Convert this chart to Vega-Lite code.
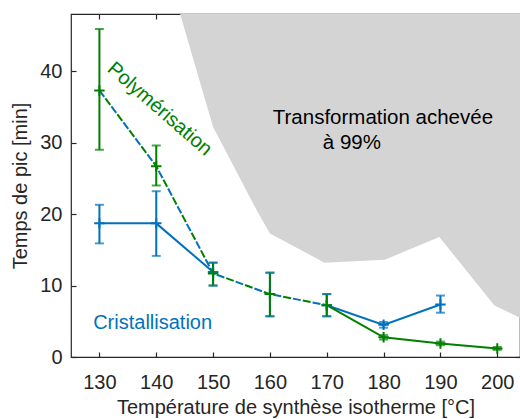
{
  "$schema": "https://vega.github.io/schema/vega-lite/v6.json",
  "width": 449,
  "height": 343,
  "autosize": "none",
  "padding": {"left": 71, "top": 14, "right": 0, "bottom": 62},
  "background": "white",
  "config": {
    "font": "Liberation Sans",
    "view": {"stroke": "#262626", "strokeWidth": 1.2},
    "axis": {
      "domain": false,
      "grid": false,
      "ticks": true,
      "tickColor": "#262626",
      "tickWidth": 1.2,
      "tickSize": -5,
      "labelColor": "#262626",
      "titleColor": "#262626",
      "labelFontSize": 20,
      "titleFontSize": 20,
      "titleFontWeight": "normal",
      "labelFont": "Liberation Sans",
      "titleFont": "Liberation Sans"
    }
  },
  "datasets": {
    "region": [
      {"temp": 144.2, "time": 48},
      {"temp": 150.0, "time": 32.2},
      {"temp": 157.7, "time": 20.5},
      {"temp": 160.0, "time": 17.3},
      {"temp": 169.6, "time": 13.2},
      {"temp": 180.2, "time": 13.6},
      {"temp": 189.8, "time": 16.8},
      {"temp": 199.5, "time": 7.2},
      {"temp": 204.0, "time": 5.5}
    ],
    "lines": [
      {"grp": "gd", "temp": 130, "time": 37.3},
      {"grp": "gd", "temp": 140, "time": 26.7},
      {"grp": "gd", "temp": 150, "time": 11.7},
      {"grp": "gd", "temp": 160, "time": 8.8},
      {"grp": "gd", "temp": 170, "time": 7.25},
      {"grp": "bs1", "temp": 130, "time": 18.7},
      {"grp": "bs1", "temp": 140, "time": 18.7},
      {"grp": "bs1", "temp": 150, "time": 11.9},
      {"grp": "bs2", "temp": 170, "time": 7.25},
      {"grp": "bs2", "temp": 180, "time": 4.5},
      {"grp": "bs2", "temp": 190, "time": 7.35},
      {"grp": "gs", "temp": 170, "time": 7.25},
      {"grp": "gs", "temp": 180, "time": 2.75},
      {"grp": "gs", "temp": 190, "time": 1.9},
      {"grp": "gs", "temp": 200, "time": 1.2}
    ],
    "points": [
      {"s": "g", "temp": 130, "time": 37.3, "lo": 29.0, "hi": 45.9},
      {"s": "g", "temp": 140, "time": 26.7, "lo": 24.0, "hi": 29.6},
      {"s": "g", "temp": 150, "time": 11.7, "lo": 10.0, "hi": 13.2},
      {"s": "g", "temp": 160, "time": 8.8, "lo": 5.7, "hi": 11.8},
      {"s": "g", "temp": 170, "time": 7.25, "lo": 5.7, "hi": 8.8},
      {"s": "g", "temp": 180, "time": 2.75, "lo": 2.45, "hi": 3.05},
      {"s": "g", "temp": 190, "time": 1.9, "lo": 1.65, "hi": 2.15},
      {"s": "g", "temp": 200, "time": 1.2, "lo": 1.0, "hi": 1.4},
      {"s": "b", "temp": 130, "time": 18.7, "lo": 15.9, "hi": 21.3},
      {"s": "b", "temp": 140, "time": 18.7, "lo": 14.15, "hi": 23.2},
      {"s": "b", "temp": 150, "time": 11.9, "lo": 10.0, "hi": 13.2},
      {"s": "b", "temp": 160, "time": 8.8, "lo": 5.7, "hi": 11.8},
      {"s": "b", "temp": 170, "time": 7.25, "lo": 5.7, "hi": 8.8},
      {"s": "b", "temp": 180, "time": 4.5, "lo": 4.1, "hi": 4.9},
      {"s": "b", "temp": 190, "time": 7.35, "lo": 6.2, "hi": 8.6}
    ]
  },
  "layer": [
    {
      "layer": [
        {
          "data": {"name": "region"},
          "mark": {"type": "area", "color": "#d4d4d4", "clip": true, "interpolate": "linear"},
          "encoding": {
            "x": {"field": "temp", "type": "quantitative", "scale": {"domain": [125, 204], "nice": false, "zero": false},
              "axis": {"orient": "bottom", "values": [130, 140, 150, 160, 170, 180, 190, 200], "title": "Température de synthèse isotherme [°C]", "labelPadding": 20, "titlePadding": 5}},
            "y": {"field": "time", "type": "quantitative", "scale": {"domain": [0, 48], "nice": false},
              "axis": {"orient": "left", "values": [0, 10, 20, 30, 40], "title": "Temps de pic [min]", "labelPadding": 14, "titlePadding": 9}},
            "y2": {"datum": 48}
          }
        },
        {
          "data": {"values": [{"label": "Transformation achevée", "temp": 160.5, "time": 33.4}, {"label": "à 99%", "temp": 169.3, "time": 29.9}]},
          "mark": {"type": "text", "align": "left", "baseline": "middle", "fontSize": 20.5, "color": "#000000"},
          "encoding": {
            "x": {"field": "temp", "type": "quantitative"},
            "y": {"field": "time", "type": "quantitative"},
            "text": {"field": "label"}
          }
        },
        {
          "data": {"name": "lines"},
          "transform": [{"filter": "datum.grp == 'gd'"}],
          "mark": {"type": "line", "color": "#0072BD", "strokeWidth": 2, "strokeDash": [8, 12], "strokeDashOffset": 0},
          "encoding": {
            "x": {"field": "temp", "type": "quantitative"},
            "y": {"field": "time", "type": "quantitative"}
          }
        },
        {
          "data": {"name": "lines"},
          "transform": [{"filter": "datum.grp == 'gd'"}],
          "mark": {"type": "line", "color": "#008000", "strokeWidth": 2, "strokeDash": [8, 12], "strokeDashOffset": 10},
          "encoding": {
            "x": {"field": "temp", "type": "quantitative"},
            "y": {"field": "time", "type": "quantitative"}
          }
        },
        {
          "data": {"name": "lines"},
          "transform": [{"filter": "datum.grp == 'bs1' || datum.grp == 'bs2'"}],
          "mark": {"type": "line", "color": "#0072BD", "strokeWidth": 2},
          "encoding": {
            "x": {"field": "temp", "type": "quantitative"},
            "y": {"field": "time", "type": "quantitative"},
            "detail": {"field": "grp"}
          }
        },
        {
          "data": {"name": "lines"},
          "transform": [{"filter": "datum.grp == 'gs'"}],
          "mark": {"type": "line", "color": "#008000", "strokeWidth": 2},
          "encoding": {
            "x": {"field": "temp", "type": "quantitative"},
            "y": {"field": "time", "type": "quantitative"}
          }
        },
        {
          "data": {"name": "points"},
          "transform": [{"filter": "datum.s == 'b'"}],
          "mark": {"type": "rule", "color": "#0072BD", "strokeWidth": 2},
          "encoding": {
            "x": {"field": "temp", "type": "quantitative"},
            "y": {"field": "lo", "type": "quantitative"},
            "y2": {"field": "hi"}
          }
        },
        {
          "data": {"name": "points"},
          "transform": [{"filter": "datum.s == 'g'"}],
          "mark": {"type": "rule", "color": "#008000", "strokeWidth": 2},
          "encoding": {
            "x": {"field": "temp", "type": "quantitative"},
            "y": {"field": "lo", "type": "quantitative"},
            "y2": {"field": "hi"}
          }
        },
        {
          "data": {"name": "points"},
          "transform": [{"filter": "datum.s == 'g'"}, {"fold": ["lo", "hi"], "as": ["end", "val"]}],
          "mark": {"type": "tick", "orient": "horizontal", "color": "#008000", "size": 9, "thickness": 2},
          "encoding": {
            "x": {"field": "temp", "type": "quantitative"},
            "y": {"field": "val", "type": "quantitative"}
          }
        },
        {
          "data": {"name": "points"},
          "transform": [{"filter": "datum.s == 'b'"}, {"fold": ["lo", "hi"], "as": ["end", "val"]}],
          "mark": {"type": "tick", "orient": "horizontal", "color": "#0072BD", "size": 9, "thickness": 2},
          "encoding": {
            "x": {"field": "temp", "type": "quantitative"},
            "y": {"field": "val", "type": "quantitative"}
          }
        },
        {
          "data": {"name": "points"},
          "transform": [{"filter": "datum.s == 'b'"}],
          "mark": {"type": "point", "shape": "M-1,0L1,0M0,-1L0,1", "size": 110, "filled": false, "color": "#0072BD", "strokeWidth": 2, "opacity": 1},
          "encoding": {
            "x": {"field": "temp", "type": "quantitative"},
            "y": {"field": "time", "type": "quantitative"}
          }
        },
        {
          "data": {"name": "points"},
          "transform": [{"filter": "datum.s == 'g'"}],
          "mark": {"type": "point", "shape": "M-1,0L1,0M0,-1L0,1", "size": 110, "filled": false, "color": "#008000", "strokeWidth": 2, "opacity": 1},
          "encoding": {
            "x": {"field": "temp", "type": "quantitative"},
            "y": {"field": "time", "type": "quantitative"}
          }
        },
        {
          "data": {"values": [{"label": "Polymérisation", "temp": 140.6, "time": 34.7}]},
          "mark": {"type": "text", "align": "center", "baseline": "middle", "fontSize": 20, "angle": 41, "color": "#008000"},
          "encoding": {
            "x": {"field": "temp", "type": "quantitative"},
            "y": {"field": "time", "type": "quantitative"},
            "text": {"field": "label"}
          }
        },
        {
          "data": {"values": [{"label": "Cristallisation", "temp": 128.9, "time": 4.7}]},
          "mark": {"type": "text", "align": "left", "baseline": "middle", "fontSize": 20, "color": "#0072BD"},
          "encoding": {
            "x": {"field": "temp", "type": "quantitative"},
            "y": {"field": "time", "type": "quantitative"},
            "text": {"field": "label"}
          }
        }
      ]
    },
    {
      "data": {"name": "points"},
      "mark": {"type": "point", "opacity": 0},
      "encoding": {
        "x": {"field": "temp", "type": "quantitative",
          "axis": {"orient": "top", "values": [130, 140, 150, 160, 170, 180, 190, 200], "labels": false, "title": null}},
        "y": {"field": "time", "type": "quantitative",
          "axis": {"orient": "right", "values": [0, 10, 20, 30, 40], "labels": false, "title": null}}
      }
    }
  ],
  "resolve": {"axis": {"x": "independent", "y": "independent"}}
}
